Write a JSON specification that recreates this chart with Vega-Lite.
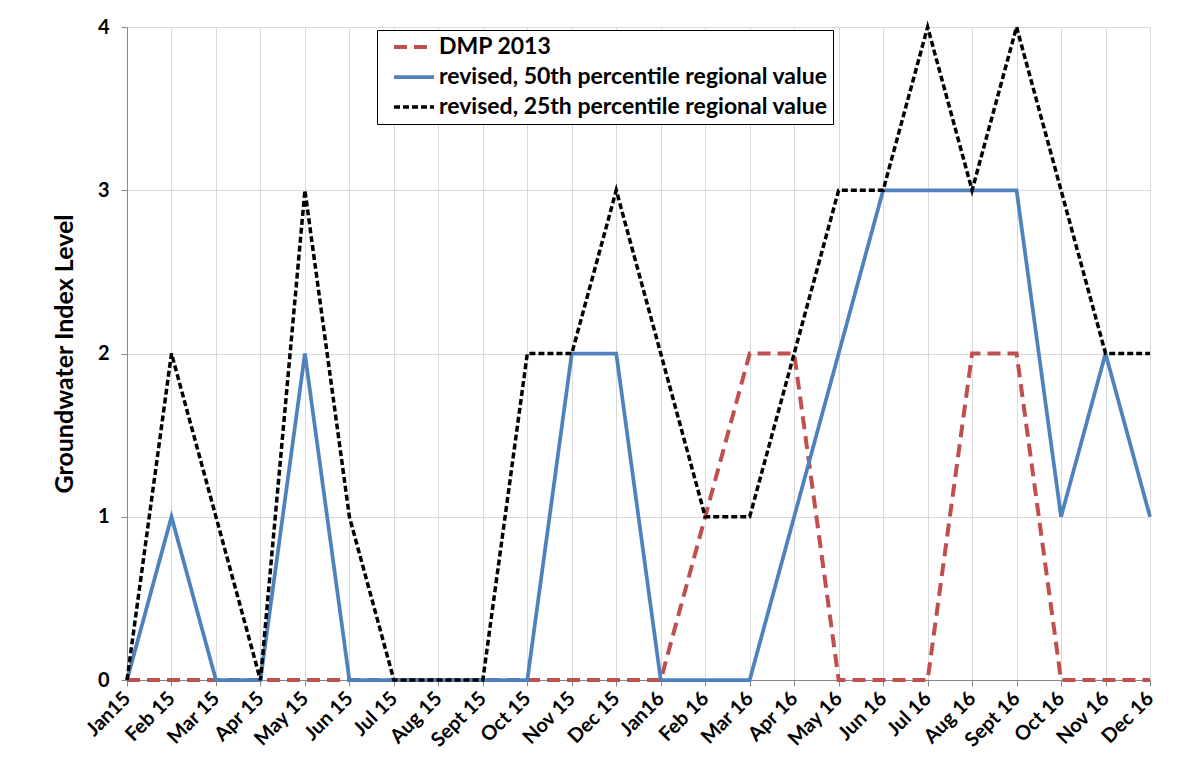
{
  "$schema": "https://vega.github.io/schema/vega-lite/v6.json",
  "width": 1023,
  "height": 653,
  "autosize": {"type": "none"},
  "padding": {"left": 127, "top": 27, "right": 39, "bottom": 86},
  "background": "white",
  "data": {
    "values": [
      {"month": "Jan15", "DMP 2013": 0, "revised, 50th percentile regional value": 0, "revised, 25th percentile regional value": 0},
      {"month": "Feb 15", "DMP 2013": 0, "revised, 50th percentile regional value": 1, "revised, 25th percentile regional value": 2},
      {"month": "Mar 15", "DMP 2013": 0, "revised, 50th percentile regional value": 0, "revised, 25th percentile regional value": 1},
      {"month": "Apr 15", "DMP 2013": 0, "revised, 50th percentile regional value": 0, "revised, 25th percentile regional value": 0},
      {"month": "May 15", "DMP 2013": 0, "revised, 50th percentile regional value": 2, "revised, 25th percentile regional value": 3},
      {"month": "Jun 15", "DMP 2013": 0, "revised, 50th percentile regional value": 0, "revised, 25th percentile regional value": 1},
      {"month": "Jul 15", "DMP 2013": 0, "revised, 50th percentile regional value": 0, "revised, 25th percentile regional value": 0},
      {"month": "Aug 15", "DMP 2013": 0, "revised, 50th percentile regional value": 0, "revised, 25th percentile regional value": 0},
      {"month": "Sept 15", "DMP 2013": 0, "revised, 50th percentile regional value": 0, "revised, 25th percentile regional value": 0},
      {"month": "Oct 15", "DMP 2013": 0, "revised, 50th percentile regional value": 0, "revised, 25th percentile regional value": 2},
      {"month": "Nov 15", "DMP 2013": 0, "revised, 50th percentile regional value": 2, "revised, 25th percentile regional value": 2},
      {"month": "Dec 15", "DMP 2013": 0, "revised, 50th percentile regional value": 2, "revised, 25th percentile regional value": 3},
      {"month": "Jan16", "DMP 2013": 0, "revised, 50th percentile regional value": 0, "revised, 25th percentile regional value": 2},
      {"month": "Feb 16", "DMP 2013": 1, "revised, 50th percentile regional value": 0, "revised, 25th percentile regional value": 1},
      {"month": "Mar 16", "DMP 2013": 2, "revised, 50th percentile regional value": 0, "revised, 25th percentile regional value": 1},
      {"month": "Apr 16", "DMP 2013": 2, "revised, 50th percentile regional value": 1, "revised, 25th percentile regional value": 2},
      {"month": "May 16", "DMP 2013": 0, "revised, 50th percentile regional value": 2, "revised, 25th percentile regional value": 3},
      {"month": "Jun 16", "DMP 2013": 0, "revised, 50th percentile regional value": 3, "revised, 25th percentile regional value": 3},
      {"month": "Jul 16", "DMP 2013": 0, "revised, 50th percentile regional value": 3, "revised, 25th percentile regional value": 4},
      {"month": "Aug 16", "DMP 2013": 2, "revised, 50th percentile regional value": 3, "revised, 25th percentile regional value": 3},
      {"month": "Sept 16", "DMP 2013": 2, "revised, 50th percentile regional value": 3, "revised, 25th percentile regional value": 4},
      {"month": "Oct 16", "DMP 2013": 0, "revised, 50th percentile regional value": 1, "revised, 25th percentile regional value": 3},
      {"month": "Nov 16", "DMP 2013": 0, "revised, 50th percentile regional value": 2, "revised, 25th percentile regional value": 2},
      {"month": "Dec 16", "DMP 2013": 0, "revised, 50th percentile regional value": 1, "revised, 25th percentile regional value": 2}
    ]
  },
  "transform": [
    {"window": [{"op": "row_number", "as": "idx"}]},
    {"fold": ["DMP 2013", "revised, 50th percentile regional value", "revised, 25th percentile regional value"], "as": ["series", "value"]}
  ],
  "mark": {"type": "line", "strokeCap": "butt", "strokeJoin": "miter"},
  "encoding": {
    "x": {
      "field": "month",
      "type": "ordinal",
      "sort": null,
      "scale": {"type": "point", "padding": 0},
      "axis": {
        "title": null,
        "labelAngle": -45,
        "labelAlign": "right",
        "labelBaseline": "middle",
        "labelPadding": 9,
        "labelFont": "Lato",
        "labelFontWeight": "bold",
        "labelFontSize": 20,
        "labelColor": "black",
        "labelLimit": 200,
        "domainColor": "#888888",
        "tickColor": "#888888",
        "tickSize": 6,
        "grid": true,
        "gridColor": "#d9d9d9"
      }
    },
    "y": {
      "field": "value",
      "type": "quantitative",
      "scale": {"domain": [0, 4]},
      "axis": {
        "title": "Groundwater Index Level",
        "titleFont": "Lato",
        "titleFontWeight": "bold",
        "titleFontSize": 25,
        "titleColor": "black",
        "titlePadding": 20,
        "values": [0, 1, 2, 3, 4],
        "format": "d",
        "labelFont": "Lato",
        "labelFontWeight": "bold",
        "labelFontSize": 20,
        "labelColor": "black",
        "labelPadding": 12,
        "domainColor": "#888888",
        "tickColor": "#888888",
        "tickSize": 6,
        "grid": true,
        "gridColor": "#d9d9d9"
      }
    },
    "color": {
      "field": "series",
      "type": "nominal",
      "sort": ["DMP 2013", "revised, 50th percentile regional value", "revised, 25th percentile regional value"],
      "scale": {
        "domain": ["DMP 2013", "revised, 50th percentile regional value", "revised, 25th percentile regional value"],
        "range": ["#C0504D", "#4F81BD", "#000000"]
      },
      "legend": {
        "title": null,
        "orient": "none",
        "legendX": 250,
        "legendY": 3,
        "direction": "vertical",
        "fillColor": "white",
        "strokeColor": "black",
        "padding": 5,
        "rowPadding": 6,
        "symbolType": "M-2,0L2,0",
        "symbolSize": 400,
        "symbolOffset": 20,
        "labelOffset": 13,
        "labelFont": "Lato",
        "labelFontWeight": "bold",
        "labelFontSize": 23,
        "labelColor": "black",
        "labelLimit": 600
      }
    },
    "strokeDash": {
      "field": "series",
      "type": "nominal",
      "sort": ["DMP 2013", "revised, 50th percentile regional value", "revised, 25th percentile regional value"],
      "scale": {
        "domain": ["DMP 2013", "revised, 50th percentile regional value", "revised, 25th percentile regional value"],
        "range": [[13, 7], [1, 0], [6, 3]]
      },
      "legend": null
    },
    "strokeWidth": {
      "field": "series",
      "type": "nominal",
      "sort": ["DMP 2013", "revised, 50th percentile regional value", "revised, 25th percentile regional value"],
      "scale": {
        "domain": ["DMP 2013", "revised, 50th percentile regional value", "revised, 25th percentile regional value"],
        "range": [4, 3.5, 2.5]
      },
      "legend": null
    },
    "order": {"field": "idx", "type": "quantitative", "sort": "ascending"}
  },
  "config": {
    "view": {"stroke": null}
  }
}
